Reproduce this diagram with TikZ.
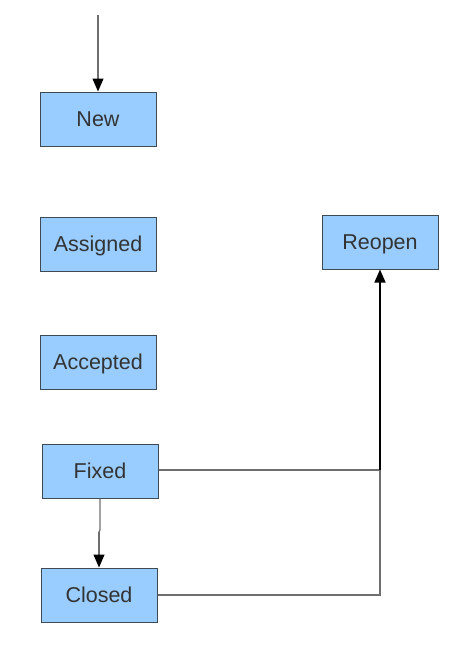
\documentclass[tikz,border=0pt]{standalone}
\usepackage{fontspec}
\setmainfont{Liberation Sans}
\usetikzlibrary{arrows.meta}
\definecolor{boxfill}{HTML}{99CCFF}
\definecolor{boxline}{HTML}{3F4A57}
\definecolor{txt}{HTML}{333333}
\definecolor{conn}{HTML}{6E6E6E}
\begin{document}
\begin{tikzpicture}[x=1pt,y=-1pt,
  state/.style={draw=boxline,line width=1pt,fill=boxfill,minimum width=116pt,minimum height=54pt,inner sep=0pt,text=txt,text height=17pt,text depth=1.6pt,font=\fontsize{21.5}{25}\selectfont},
  conn/.style={draw=conn,line width=1.2pt},
  tip/.style={-{Triangle[length=13pt,width=11pt,fill=black,color=black]}}]
\useasboundingbox (0,0) rectangle (454,670);
\node[state] (new) at (98,119) {New};
\node[state] (assigned) at (98,244) {Assigned};
\node[state] (accepted) at (98,362) {Accepted};
\node[state] (fixed) at (100,471) {Fixed};
\node[state] (closed) at (99,595) {Closed};
\node[state] (reopen) at (380,242) {Reopen};
\coordinate (start) at (98,15);
\coordinate (j1) at (380,470);
\coordinate (jog) at (100,530);
\coordinate (jog2) at (99,532);
\draw[conn,tip] (start) -- (new.north);
\draw[conn] (fixed.south) -- (jog) -- (jog2);
\draw[conn,tip] (jog2) -- (closed.north);
\draw[conn] (fixed.east |- j1) -- (j1);
\draw[conn,tip,draw=black,line width=1.4pt] (j1) -- (reopen.south);
\draw[conn] (closed.east) -- (closed.east -| j1) -- (j1);
\end{tikzpicture}
\end{document}
